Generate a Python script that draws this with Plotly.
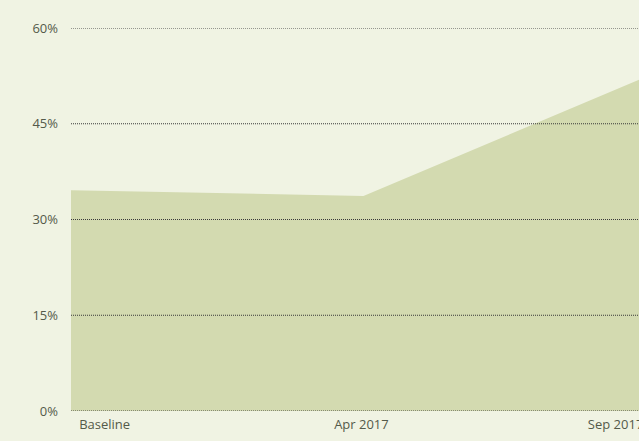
import plotly.graph_objects as go

categories = ["Baseline", "Apr 2017", "Sep 2017"]
values = [34.6, 33.7, 53.0]
y_ticks = [0, 15, 30, 45, 60]
y_tick_labels = ["0%", "15%", "30%", "45%", "60%"]

BG = "#f0f3e3"
FILL = "#d3dab0"
TEXT = "#545a4a"
FONT = "Open Sans, Noto Sans, sans-serif"

x_idx = list(range(len(categories)))

fig = go.Figure()
fig.add_trace(go.Scatter(
    x=x_idx, y=values, mode="lines", fill="tozeroy",
    fillcolor=FILL, line=dict(color=FILL, width=0),
    hoverinfo="skip", showlegend=False,
))

for v in y_ticks:
    fig.add_shape(type="line", xref="paper", yref="y", x0=0, x1=1, y0=v, y1=v,
                  line=dict(color="#3a3a3a", width=1, dash="1px,1px"), layer="above")

fig.update_layout(
    width=639, height=441,
    margin=dict(l=71, r=0, t=28, b=30, autoexpand=False),
    paper_bgcolor=BG, plot_bgcolor=BG,
    font=dict(family=FONT, size=13, color=TEXT),
    xaxis=dict(range=[0, 1.942], tickvals=[0.115, 0.993, 1.862], ticktext=categories,
               showgrid=False, zeroline=False, showline=False, ticks="",
               tickfont=dict(size=13, color=TEXT), ticklabeloverflow="allow",
               ticklabelstandoff=4, automargin=False),
    yaxis=dict(range=[0, 60], tickvals=y_ticks, ticktext=y_tick_labels,
               showgrid=False, zeroline=False, showline=False, ticks="",
               ticklabelstandoff=12, tickfont=dict(size=13, color=TEXT),
               automargin=False),
)

fig.write_html(
    "out.html",
    config={"displayModeBar": False, "staticPlot": True},
    post_script="document.body.style.margin='0';document.body.style.overflow='hidden';"
                "document.body.style.background='" + BG + "';",
)
